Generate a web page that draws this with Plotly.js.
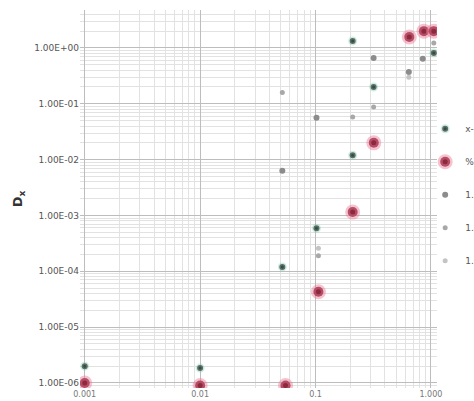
<!DOCTYPE html>
<html>
<head>
<meta charset="utf-8">
<script src="https://cdn.plot.ly/plotly-3.0.1.min.js"></script>
<style>html,body{margin:0;padding:0;background:#fff;}#chart{width:474px;height:401px;}</style>
</head>
<body>
<div id="chart"></div>
<script>
// Series values (log-log axes)
const redX = [0.001, 0.01, 0.055, 0.106, 0.21, 0.32, 0.65, 0.87, 1.06];
const redY = [1e-6, 9e-7, 9e-7, 4.3e-5, 1.15e-3, 0.02, 1.57, 2.0, 2.0];

const darkX = [0.001, 0.01, 0.0516, 0.102, 0.21, 0.319, 0.21, 1.06];
const darkY = [2.0e-6, 1.85e-6, 1.2e-4, 5.9e-4, 0.012, 0.20, 1.33, 0.81];

const grayAX = [0.0516, 0.102, 0.319, 0.644, 0.851];
const grayAY = [6.3e-3, 0.056, 0.66, 0.37, 0.64];

const grayBX = [0.0516, 0.21, 0.319, 0.106, 1.06];
const grayBY = [0.16, 0.058, 0.088, 1.9e-4, 1.23];

const grayCX = [0.106, 0.644];
const grayCY = [2.6e-4, 0.30];

const legendNames = ['x-x', '%Mass', '1.00E+00', '1.40E+00', '1.00E-01'];

const yTickVals = [1, 0.1, 0.01, 0.001, 1e-4, 1e-5, 1e-6];
const yTickText = ['1.00E+00', '1.00E-01', '1.00E-02', '1.00E-03', '1.00E-04', '1.00E-05', '1.00E-06'];
const xTickVals = [0.001, 0.01, 0.1, 1];
const xTickText = ['0.001', '0.01', '0.1', '1.000'];

const traces = [
  {x: darkX, y: darkY, name: legendNames[0], type: 'scatter', mode: 'markers',
   legendgroup: 'a',
   marker: {color: '#444444', size: 6, line: {color: 'rgba(120,200,170,0.35)', width: 3}}},
  {x: redX, y: redY, name: legendNames[1], type: 'scatter', mode: 'markers',
   legendgroup: 'b',
   marker: {color: '#8a2a3c', size: 10, line: {color: 'rgba(235,120,150,0.45)', width: 5}}},
  {x: grayAX, y: grayAY, name: legendNames[2], type: 'scatter', mode: 'markers',
   legendgroup: 'c',
   marker: {color: '#8c8c8c', size: 6}},
  {x: grayBX, y: grayBY, name: legendNames[3], type: 'scatter', mode: 'markers',
   legendgroup: 'd',
   marker: {color: '#a8a8a8', size: 5}},
  {x: grayCX, y: grayCY, name: legendNames[4], type: 'scatter', mode: 'markers',
   legendgroup: 'e',
   marker: {color: '#c4c4c4', size: 5}}
];

const layout = {
  width: 474, height: 401,
  margin: {l: 80, r: 37, t: 10, b: 13, autoexpand: false},
  paper_bgcolor: '#ffffff', plot_bgcolor: '#ffffff',
  font: {family: 'DejaVu Sans, sans-serif', size: 9, color: '#555'},
  showlegend: true,
  legend: {xref: 'container', yref: 'container', x: 0.897, y: 0.715,
           xanchor: 'left', yanchor: 'top',
           font: {size: 9, color: '#555'}, tracegroupgap: 14,
           traceorder: 'grouped', bgcolor: 'rgba(0,0,0,0)'},
  xaxis: {type: 'log', range: [Math.log10(0.00091), Math.log10(1.13)],
          tickvals: xTickVals, ticktext: xTickText,
          showgrid: true, gridcolor: '#bdbdbd', gridwidth: 1,
          minor: {dtick: 'D1', showgrid: true, gridcolor: '#e2e2e2', gridwidth: 1},
          zeroline: false, showline: false, ticks: '',
          tickfont: {size: 8, color: '#777'}},
  yaxis: {type: 'log', range: [-6.09, 0.68],
          tickvals: yTickVals, ticktext: yTickText,
          showgrid: true, gridcolor: '#bdbdbd', gridwidth: 1,
          minor: {dtick: 'D1', showgrid: true, gridcolor: '#e2e2e2', gridwidth: 1},
          zeroline: false, showline: false, ticks: '',
          tickfont: {size: 9, color: '#555'},
          title: {text: '<b>D<sub>x</sub></b>', font: {size: 13, color: '#333'}, standoff: 8}}
};

Plotly.newPlot('chart', traces, layout, {displayModeBar: false, staticPlot: true});
</script>
</body>
</html>
